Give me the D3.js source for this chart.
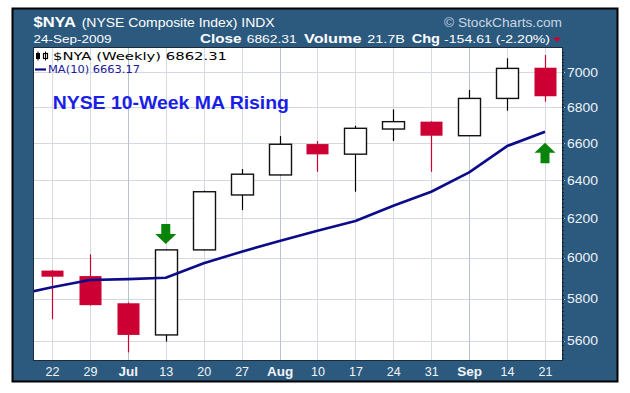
<!DOCTYPE html>
<html><head><meta charset="utf-8">
<script src="https://cdn.jsdelivr.net/npm/d3@7"></script>
<style>html,body{margin:0;padding:0;background:#fff;} svg{display:block;}</style>
</head><body><svg id="c" width="630" height="393"></svg>
<script>
// ---- data ----
const weeks = ["2009-06-22","2009-06-29","2009-07-06","2009-07-13","2009-07-20","2009-07-27","2009-08-03",
               "2009-08-10","2009-08-17","2009-08-24","2009-08-31","2009-09-07","2009-09-14","2009-09-21"];
const openV  = [5937, 5910, 5778, 5628, 6040, 6322, 6428, 6595, 6540, 6678, 6719, 6641, 6850, 7027];
const highV  = [5940, 6018, 5782, 6044, 6345, 6460, 6639, 6612, 6696, 6788, 6721, 6898, 7082, 7101];
const lowV   = [5702, 5767, 5547, 5597, 6038, 6243, 6426, 6445, 6339, 6612, 6445, 6639, 6780, 6831];
const closeV = [5907, 5769, 5628, 6040, 6339, 6432, 6594, 6539, 6682, 6719, 6641, 6850, 7023, 6862.31];
const maWeeks = ["2009-06-15"].concat(weeks);
const ma10 = [5817, 5855, 5891, 5895, 5902, 5973, 6031, 6085, 6137, 6187, 6266, 6339, 6442, 6584, 6663.17];
const yTicks = [5600, 5800, 6000, 6200, 6400, 6600, 6800, 7000];
const monthStarts = ["2009-07-06", "2009-08-03", "2009-09-07"];
const arrowsDown = [{date: "2009-07-13", value: 6070}];
const arrowsUp = [{date: "2009-09-21", value: 6602}];

// ---- layout ----
const parse = d3.timeParse("%Y-%m-%d");
const L = 34, R = 562, T = 48, B = 360;
const svg = d3.select("#c");
const FRAME = "#2c5a7f";

svg.append("rect").attr("x", 12.5).attr("y", 8.5).attr("width", 605).attr("height", 373)
  .attr("fill", FRAME).attr("stroke", "#000").attr("stroke-width", 2);
svg.append("rect").attr("x", L).attr("y", T).attr("width", R - L).attr("height", B - T)
  .attr("fill", "#fff");

const x = d3.scaleTime().domain([parse(weeks[0]), parse(weeks[weeks.length - 1])]).range([52, 545]);
const y = d3.scaleLog().domain([5512, 7143]).range([B, T]);

// grid
const grid = svg.append("g");
grid.selectAll("line.h").data(yTicks).join("line")
  .attr("x1", L).attr("x2", R + 3)
  .attr("y1", d => Math.round(y(d)) + 0.5).attr("y2", d => Math.round(y(d)) + 0.5)
  .attr("stroke", "#d4d9e1").attr("stroke-width", 1);
grid.selectAll("line.v").data(weeks).join("line")
  .attr("x1", d => Math.round(x(parse(d))) + 0.5).attr("x2", d => Math.round(x(parse(d))) + 0.5)
  .attr("y1", T).attr("y2", B)
  .attr("stroke", d => monthStarts.includes(d) ? "#b6c3d1" : "#d6dbe3").attr("stroke-width", 1);

// plot border
svg.append("rect").attr("x", L - 0.5).attr("y", T - 0.5).attr("width", R - L + 1).attr("height", B - T + 1)
  .attr("fill", "none").attr("stroke", "#1d2c3c").attr("stroke-width", 1);

// minor ticks on right
const minor = d3.range(5520, 7140, 20);
svg.append("g").selectAll("line").data(minor).join("line")
  .attr("x1", R).attr("x2", R + 2)
  .attr("y1", d => Math.round(y(d)) + 0.5).attr("y2", d => Math.round(y(d)) + 0.5)
  .attr("stroke", "#0e1c2c").attr("stroke-width", 1);

// candles
const RED = "#cc0033";
const candles = svg.append("g");
weeks.forEach((w, i) => {
  const cx = Math.round(x(parse(w)));
  const down = closeV[i] < openV[i];
  const col = down ? RED : "#000";
  candles.append("line")
    .attr("x1", cx + 0.5).attr("x2", cx + 0.5)
    .attr("y1", y(highV[i])).attr("y2", y(lowV[i]))
    .attr("stroke", col).attr("stroke-width", 1.2);
  const top = y(Math.max(openV[i], closeV[i])), bot = y(Math.min(openV[i], closeV[i]));
  candles.append("rect")
    .attr("x", cx - 10.5).attr("width", 22)
    .attr("y", top).attr("height", Math.max(1, bot - top))
    .attr("fill", down ? RED : "#fff")
    .attr("stroke", down ? "none" : "#111").attr("stroke-width", 1.4);
});

// MA line
svg.append("clipPath").attr("id", "pc").append("rect")
  .attr("x", L).attr("y", T).attr("width", R - L).attr("height", B - T);
const maLine = d3.line().x((d, i) => x(parse(maWeeks[i]))).y(d => y(d));
svg.append("path").datum(ma10).attr("clip-path", "url(#pc)")
  .attr("d", maLine).attr("fill", "none").attr("stroke", "#0c0c8a").attr("stroke-width", 2.6)
  .attr("stroke-linejoin", "round");

// arrows
const GREEN = "#0a830a";
arrowsDown.forEach(a => {
  const cx = x(parse(a.date)), ty = y(a.value);
  svg.append("path").attr("fill", GREEN)
    .attr("d", `M${cx},${ty} L${cx - 10.5},${ty - 10} L${cx - 4.5},${ty - 10} L${cx - 4.5},${ty - 20} L${cx + 4.5},${ty - 20} L${cx + 4.5},${ty - 10} L${cx + 10.5},${ty - 10} Z`);
});
arrowsUp.forEach(a => {
  const cx = x(parse(a.date)), ty = y(a.value);
  svg.append("path").attr("fill", GREEN)
    .attr("d", `M${cx},${ty} L${cx - 10.5},${ty + 10} L${cx - 4.5},${ty + 10} L${cx - 4.5},${ty + 20.5} L${cx + 4.5},${ty + 20.5} L${cx + 4.5},${ty + 10} L${cx + 10.5},${ty + 10} Z`);
});

// axes
const fmtDay = d3.timeFormat("%-d"), fmtMon = d3.timeFormat("%b");
const xAxis = d3.axisBottom(x).tickValues(weeks.map(parse)).tickSize(0)
  .tickFormat(d => monthStarts.includes(d3.timeFormat("%Y-%m-%d")(d)) ? fmtMon(d) : fmtDay(d));
const gx = svg.append("g").attr("transform", `translate(0,${B})`).call(xAxis);
gx.select(".domain").remove();
gx.selectAll("text").attr("y", 16).attr("dy", 0)
  .attr("font-family", "Liberation Sans, Arial, sans-serif").attr("fill", "#f2f5f8")
  .each(function(d) {
    const isMon = monthStarts.includes(d3.timeFormat("%Y-%m-%d")(d));
    d3.select(this).attr("font-size", isMon ? 13.5 : 12.5).attr("font-weight", isMon ? "bold" : "normal");
  });

const yAxis = d3.axisRight(y).tickValues(yTicks).tickFormat(d3.format("d")).tickSize(0).tickPadding(5);
const gy = svg.append("g").attr("transform", `translate(${R},0)`).call(yAxis);
gy.select(".domain").remove();
gy.selectAll("text").attr("font-family", "Liberation Sans, Arial, sans-serif").attr("font-size", 12)
  .attr("fill", "#eef2f6").attr("textLength", 31).attr("lengthAdjust", "spacingAndGlyphs");

// header
const hf = "Liberation Sans, Arial, sans-serif";
function txt(s, xx, yy, opts) {
  const t = svg.append("text").attr("x", xx).attr("y", yy).text(s)
    .attr("font-family", opts.font || hf).attr("font-size", opts.size || 12)
    .attr("font-weight", opts.weight || "normal").attr("fill", opts.fill || "#fff");
  if (opts.len) t.attr("textLength", opts.len).attr("lengthAdjust", "spacingAndGlyphs");
  return t;
}
txt("$NYA", 33.5, 26.7, {size: 15, weight: "bold", len: 42.5});
txt("(NYSE Composite Index) INDX", 81.7, 26.7, {size: 13, len: 193});
txt("\u00A9 StockCharts.com", 444, 27, {size: 13, fill: "#c9d5e1", len: 118});
txt("24-Sep-2009", 33.5, 43.3, {size: 11.5, len: 78});
txt("Close", 200, 43.3, {size: 13, weight: "bold", len: 41.5});
txt("6862.31", 246.7, 43.3, {size: 11.5, len: 50});
txt("Volume", 304, 43.3, {size: 13, weight: "bold", len: 57.5});
txt("21.7B", 367.3, 43.3, {size: 11.5, len: 37.5});
txt("Chg", 411.7, 43.3, {size: 13, weight: "bold", len: 28.3});
txt("-154.61 (-2.20%)", 444, 43.3, {size: 11.5, len: 106});
svg.append("path").attr("d", "M553,37.5 L561,37.5 L557,42 Z").attr("fill", RED);

// legend
const lg = svg.append("g");
lg.append("rect").attr("x", 36).attr("y", 53).attr("width", 4).attr("height", 6).attr("fill", "#000");
lg.append("line").attr("x1", 38).attr("x2", 38).attr("y1", 51.5).attr("y2", 60.5).attr("stroke", "#000");
lg.append("rect").attr("x", 43.5).attr("y", 53.5).attr("width", 4).attr("height", 5).attr("fill", "#fff").attr("stroke", "#000").attr("stroke-width", 1.2);
lg.append("line").attr("x1", 45.5).attr("x2", 45.5).attr("y1", 51.5).attr("y2", 60.5).attr("stroke", "#000");
txt("$NYA (Weekly) 6862.31", 53, 60, {font: "DejaVu Sans, Verdana, sans-serif", size: 11, fill: "#000", len: 174});
lg.append("line").attr("x1", 35).attr("x2", 46).attr("y1", 69.5).attr("y2", 69.5).attr("stroke", "#0c0c8a").attr("stroke-width", 2.2);
txt("MA(10) 6663.17", 48, 73.3, {font: "DejaVu Sans Condensed, DejaVu Sans, sans-serif", size: 11, fill: "#1a1a99", len: 92});

// title
txt("NYSE 10-Week MA Rising", 52.7, 109.3, {size: 18, weight: "bold", fill: "#1a1ee8", len: 236.3});
</script>
</body></html>
